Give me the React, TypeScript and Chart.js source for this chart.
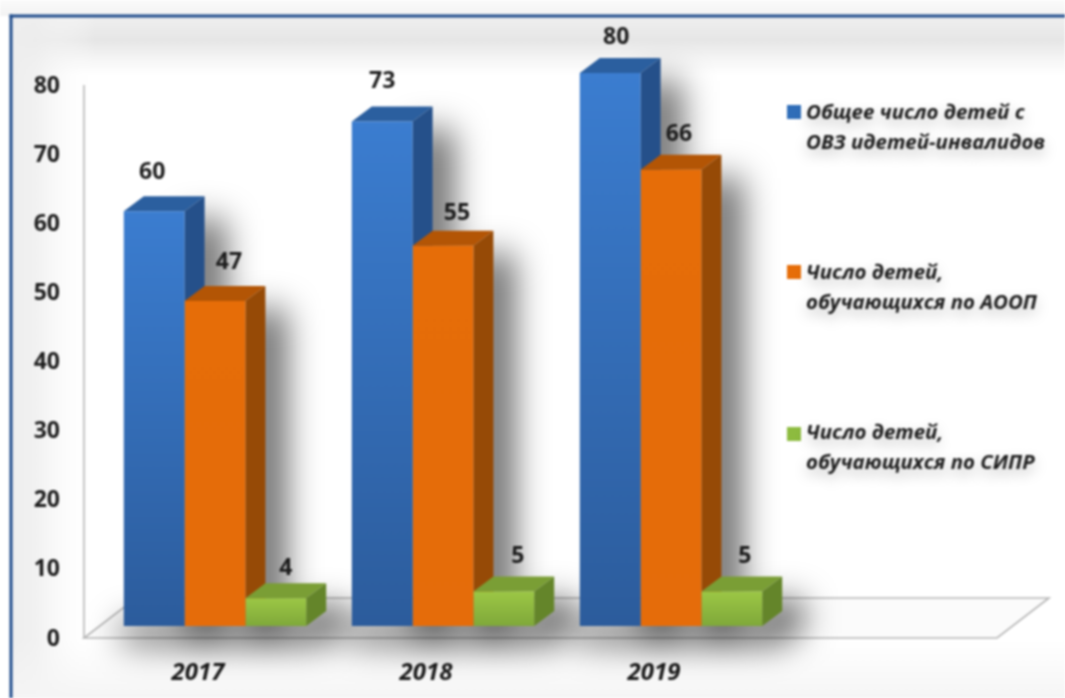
import React, { useEffect, useRef } from "react";
import { Chart, registerables } from "chart.js";

Chart.register(...registerables);

const categories = ["2017", "2018", "2019"];
const totalChildren = [60, 73, 80];
const aoopChildren = [47, 55, 66];
const siprChildren = [4, 5, 5];
const yTicks = [0, 10, 20, 30, 40, 50, 60, 70, 80];
const legendTotal = ["Общее число детей с", "ОВЗ идетей-инвалидов"];
const legendAoop = ["Число детей,", "обучающихся по АООП"];
const legendSipr = ["Число детей,", "обучающихся по СИПР"];

const W = 1065;
const H = 698;
const DX = 20;
const DY = -15;
const FONT = '"Open Sans", sans-serif';

const looks = [
  { light: "#3b7dd0", dark: "#2c5c9c", top: "#2b5f9f", side: "#25508a", swatch: "#2f6db8" },
  { light: "#e66d08", dark: "#e56c0a", top: "#b35505", side: "#964a06", swatch: "#e66d08" },
  { light: "#9cc745", dark: "#7fa83a", top: "#7a9e35", side: "#64852a", swatch: "#8dbb3f" },
];
const legendRows = [
  { lines: legendTotal, box: 105, y: [113, 143] },
  { lines: legendAoop, box: 265, y: [273, 303] },
  { lines: legendSipr, box: 427, y: [433, 463] },
];
// pixel nudges of the value labels relative to the bar centre, per dataset / category
const labelNudgeX = [[-2, 0, 6], [14, 14, 8], [10, 14, 13]];
const labelRise = [[39, 40, 36], [39, 32, 35], [30, 35, 35]];

const scene = {
  id: "scene",
  beforeDraw(chart: any) {
    const c = chart.ctx;
    c.save();
    c.fillStyle = "#ffffff";
    c.fillRect(0, 0, W, H);
    // outer page above the frame
    let g = c.createLinearGradient(0, 0, 0, 16);
    g.addColorStop(0, "#fbfbfb");
    g.addColorStop(1, "#f3f3f3");
    c.fillStyle = g;
    c.fillRect(0, 0, W, 16);
    // top band
    g = c.createLinearGradient(0, 17, 0, 75);
    g.addColorStop(0, "#efefef");
    g.addColorStop(0.4, "#e6e6e6");
    g.addColorStop(0.75, "#f6f6f6");
    g.addColorStop(1, "#ffffff");
    c.fillStyle = g;
    c.fillRect(12, 17, W - 12, 58);
    // left band
    g = c.createLinearGradient(12, 0, 95, 0);
    g.addColorStop(0, "rgba(238,238,238,1)");
    g.addColorStop(0.3, "rgba(238,238,238,0.8)");
    g.addColorStop(1, "rgba(255,255,255,0)");
    c.fillStyle = g;
    c.fillRect(12, 17, 83, H - 17);
    // bottom band
    g = c.createLinearGradient(0, 640, 0, 698);
    g.addColorStop(0, "rgba(246,246,246,0)");
    g.addColorStop(1, "#f5f5f5");
    c.fillStyle = g;
    c.fillRect(12, 640, W - 12, 58);
    // frame
    c.fillStyle = "#1f4c8c";
    c.fillRect(9.5, 14.5, W - 9.5, 3);
    c.fillRect(9.5, 14.5, 3, H - 14.5);
    c.restore();
  },
  beforeDatasetsDraw(chart: any) {
    const c = chart.ctx;
    const y = chart.scales.y;
    const x0 = chart.chartArea.left - 17;
    const off = 12;
    const y0 = y.getPixelForValue(0) + off;
    const yTop = y.getPixelForValue(80) + off;

    // axis and floor outline
    c.save();
    c.strokeStyle = "#b6b6b6";
    c.lineWidth = 1.6;
    c.fillStyle = "#fbfbfb";
    c.beginPath();
    c.moveTo(x0, yTop);
    c.lineTo(x0, y0);
    c.stroke();
    c.beginPath();
    c.moveTo(x0, y0);
    c.lineTo(997, y0);
    c.lineTo(1049, y0 - 40);
    c.lineTo(x0 + 52, y0 - 40);
    c.closePath();
    c.fill();
    c.stroke();
    c.restore();

    // soft shadows behind the bars
    c.save();
    c.filter = "blur(17px)";
    c.fillStyle = "rgba(0,0,0,0.62)";
    chart.data.datasets.forEach((_: any, i: number) => {
      chart.getDatasetMeta(i).data.forEach((b: any) => {
        const r = b.x + b.width / 2;
        c.fillRect(r + 2, b.y + 8, DX + 18, b.base - b.y);
      });
    });
    const m0 = chart.getDatasetMeta(0).data;
    const m2 = chart.getDatasetMeta(2).data;
    m0.forEach((b: any, j: number) => {
      const l = b.x - b.width / 2;
      const r = m2[j].x + m2[j].width / 2;
      c.fillRect(l - 2, b.base - 4, r - l + DX + 2, 22);
    });
    c.restore();

    // depth faces
    chart.data.datasets.forEach((_: any, i: number) => {
      const look = looks[i];
      chart.getDatasetMeta(i).data.forEach((b: any) => {
        const l = b.x - b.width / 2;
        const r = b.x + b.width / 2;
        c.fillStyle = look.top;
        c.beginPath();
        c.moveTo(l, b.y);
        c.lineTo(l + DX, b.y + DY);
        c.lineTo(r + DX, b.y + DY);
        c.lineTo(r, b.y);
        c.closePath();
        c.fill();
        c.fillStyle = look.side;
        c.beginPath();
        c.moveTo(r, b.y);
        c.lineTo(r + DX, b.y + DY);
        c.lineTo(r + DX, b.base + DY);
        c.lineTo(r, b.base);
        c.closePath();
        c.fill();
      });
    });
  },
  afterDatasetsDraw(chart: any) {
    const c = chart.ctx;
    c.save();
    c.fillStyle = "#1c1c1c";
    c.font = `700 23px ${FONT}`;
    c.textAlign = "center";
    c.textBaseline = "middle";
    chart.data.datasets.forEach((ds: any, i: number) => {
      chart.getDatasetMeta(i).data.forEach((b: any, j: number) => {
        c.fillText(String(ds.data[j]), b.x + labelNudgeX[i][j], b.y - labelRise[i][j]);
      });
    });
    // legend
    legendRows.forEach((row, i) => {
      c.fillStyle = looks[i].swatch;
      c.fillRect(787, row.box, 14, 14);
      c.save();
      c.fillStyle = "#1c1c1c";
      c.font = `italic 700 20.4px ${FONT}`;
      c.textAlign = "left";
      c.shadowColor = "rgba(0,0,0,0.25)";
      c.shadowBlur = 14;
      c.shadowOffsetY = 6;
      row.lines.forEach((t, k) => c.fillText(t, 806, row.y[k]));
      c.restore();
    });
    c.restore();
  },
};

export default function App() {
  const ref = useRef<HTMLCanvasElement | null>(null);
  useEffect(() => {
    document.body.style.margin = "0";
    const fill = (i: number) => (ctx: any) => {
      const look = looks[i];
      const { chart, parsed } = ctx;
      if (!chart.chartArea || !parsed) return look.light;
      const ys = chart.scales.y;
      const g = chart.ctx.createLinearGradient(0, ys.getPixelForValue(parsed.y), 0, ys.getPixelForValue(0));
      g.addColorStop(0, look.light);
      g.addColorStop(1, look.dark);
      return g;
    };
    const chart = new Chart(ref.current as HTMLCanvasElement, {
      type: "bar",
      data: {
        labels: categories,
        datasets: [
          { label: legendTotal.join(" "), data: totalChildren, backgroundColor: fill(0) },
          { label: legendAoop.join(" "), data: aoopChildren, backgroundColor: fill(1) },
          { label: legendSipr.join(" "), data: siprChildren, backgroundColor: fill(2) },
        ],
      },
      options: {
        responsive: false,
        animation: false,
        layout: { padding: { top: 73, right: 280, left: 0, bottom: 0 } },
        datasets: { bar: { categoryPercentage: 0.8, barPercentage: 1 } },
        plugins: { legend: { display: false }, tooltip: { enabled: false } },
        scales: {
          x: {
            grid: { display: false },
            border: { display: false },
            afterFit: (s: any) => { s.height = 72; },
            ticks: {
              color: "#1c1c1c",
              padding: 25,
              labelOffset: -17,
              maxRotation: 0,
              font: { family: FONT, size: 24, style: "italic", weight: "700" },
            },
          },
          y: {
            min: 0,
            max: 80,
            afterBuildTicks: (s: any) => { s.ticks = yTicks.map((value) => ({ value })); },
            afterFit: (s: any) => { s.width = 101; },
            grid: { display: false },
            border: { display: false },
            ticks: {
              color: "#1c1c1c",
              padding: 33,
              labelOffset: 13,
              font: { family: FONT, size: 23, weight: "700" },
            },
          },
        },
      } as any,
      plugins: [scene],
    });
    return () => chart.destroy();
  }, []);
  return (
    <canvas
      ref={ref}
      width={W}
      height={H}
      style={{ position: "fixed", left: 0, top: 0, display: "block", filter: "blur(0.8px)" }}
    />
  );
}
